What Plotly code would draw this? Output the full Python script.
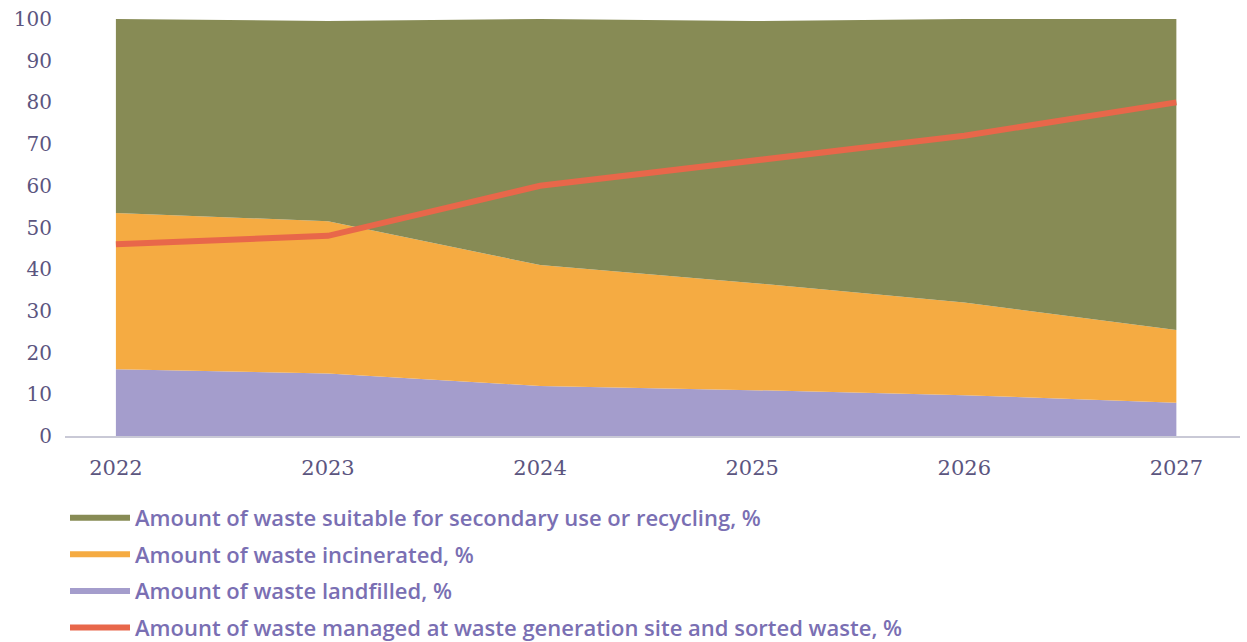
import plotly.graph_objects as go

years = [2022, 2023, 2024, 2025, 2026, 2027]
landfilled = [16, 15, 12, 11, 9.8, 8]
incinerated = [37.5, 36.5, 29, 25.7, 22.2, 17.4]
recycling = [46.5, 48, 59, 62.8, 68, 74.6]
managed_sorted = [46, 48, 60, 66, 72, 80]

names = [
    "Amount of waste suitable for secondary use or recycling, %",
    "Amount of waste incinerated, %",
    "Amount of waste landfilled, %",
    "Amount of waste managed at waste generation site and sorted waste, %",
]
c_green = "#878b55"
c_orange = "#f5ab42"
c_purple = "#a49dcc"
c_red = "#e8674a"

fig = go.Figure()
for vals, col, nm in [(landfilled, c_purple, names[2]),
                      (incinerated, c_orange, names[1]),
                      (recycling, c_green, names[0])]:
    fig.add_trace(go.Scatter(x=years, y=vals, stackgroup="one", mode="none",
                             fillcolor=col, name=nm, showlegend=False,
                             hoverinfo="skip"))
fig.add_trace(go.Scatter(x=years, y=managed_sorted, mode="lines",
                         line=dict(color=c_red, width=6), name=names[3],
                         showlegend=False))

# legend entries
for i, (col, nm) in enumerate([(c_green, names[0]), (c_orange, names[1]),
                               (c_purple, names[2]), (c_red, names[3])]):
    fig.add_trace(go.Scatter(x=[None], y=[None], mode="lines",
                             line=dict(color=col, width=6), name=nm,
                             legendgroup=f"g{i}", showlegend=True))

serif = "'DejaVu Serif', serif"
fig.update_layout(
    width=1247, height=642,
    margin=dict(l=65, r=7, t=19, b=206, autoexpand=False),
    paper_bgcolor="white", plot_bgcolor="white",
    xaxis=dict(range=[2021.76, 2027.3], tickvals=years, ticktext=[str(y) for y in years],
               showgrid=False, zeroline=False, showline=True, linecolor="#c9c9d6",
               linewidth=1.5, ticks="", ticklabelstandoff=12,
               tickfont=dict(family=serif, size=21, color="#5b5580")),
    yaxis=dict(range=[0, 100], tickvals=list(range(0, 101, 10)), showgrid=False,
               zeroline=False, showline=False, ticks="", ticklabelstandoff=12,
               tickfont=dict(family=serif, size=20, color="#5b5580")),
    showlegend=True,
    legend=dict(x=0.0, y=-0.146, xanchor="left", yanchor="top", orientation="v",
                traceorder="grouped", tracegroupgap=5, itemwidth=60,
                font=dict(family="'Open Sans', sans-serif", size=22, color="#7a6fb3",
                          weight=600),
                bgcolor="rgba(0,0,0,0)"),
)
fig.write_html("out.html")
